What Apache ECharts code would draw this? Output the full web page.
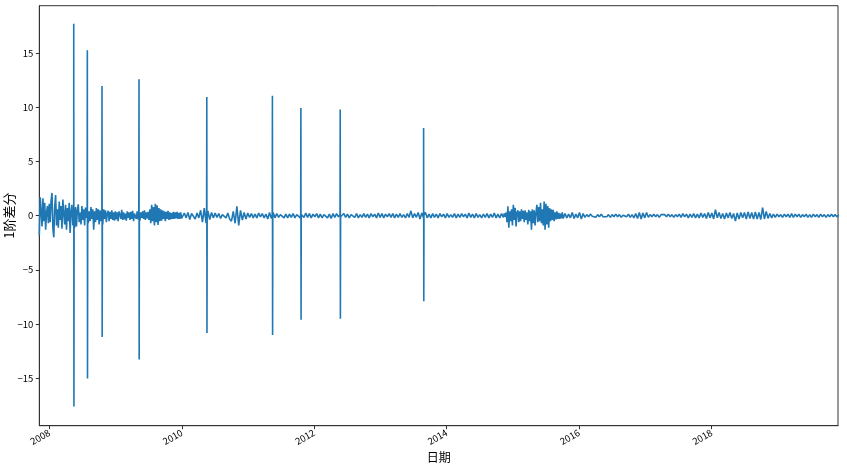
<!DOCTYPE html>
<html><head><meta charset="utf-8">
<script src="https://cdn.jsdelivr.net/npm/echarts@6/dist/echarts.min.js"></script>
<style>html,body{margin:0;padding:0;background:#fff}#c{width:847px;height:465px}</style>
</head><body><div id="c"></div>
<script>
// ---- data read from the picture (first difference, sampled along the band) ----
// segment 1: 2007-11-07 .. 2009-12-31, every 5 days
const seg1Start = '2007-11-07', seg1Step = 5;
const seg1Values = [
  -1.8, 1.7, 0.4, -1.0, 1.6, -0.5, 1.2, -1.3, 0.3, 0.9, -0.7, 1.1, -0.6,
  1.4, 2.1, -1.2, -2.0, 0.8, 1.9, -0.9, 0.6,
  -1.1, 1.3, -0.4, 0.9, -1.2, 1.5, 0.2, -0.8, 1.0, -1.3, 0.7, -0.5, 1.2, -1.6, 0.4, 1.0, -0.9, 0.6, -1.1,
  0.8, -1.0, 0.5, 1.05, -0.6, 0.3, -0.8, 0.9, -0.4, 0.6, -0.9, 0.75, -0.2, 0.5, -0.7, 0.4, -0.5, 0.8, -0.3, 0.6,
  -1.3, 0.4, -0.6, 0.7, -0.4, 0.6, -0.8, 0.5,
  -0.5, 0.4, -0.8, 0.6, -0.3, 0.5, -0.6, 0.2, 0.45, -0.5, 0.35, -0.3, 0.5, -0.4, 0.3, -0.45, 0.4,
  -0.35, 0.3, -0.5, 0.4, 0.1, -0.3, 0.55, -0.4, 0.3, -0.35, 0.2, -0.45, 0.4, -0.2, 0.3, -0.4, 0.35, -0.3, 0.45, -0.5,
  0.2, 0.35, -0.3, 0.4, -0.35, 0.25, -0.45, 0.3, -0.2, 0.4, -0.3, 0.5, -0.4, 0.3, -0.25, 0.35, -0.4,
  0.6, -0.7, 1.0, -0.5, 0.8, -0.9, 1.1, -0.6, 0.95, -0.85, 0.7, -0.5, 0.6,
  -0.45, 0.5, -0.3, 0.4, -0.5, 0.35, -0.3, 0.45, -0.4, 0.3, -0.35, 0.25, -0.3, 0.35, -0.3, 0.3, -0.25, 0.35, -0.3, 0.25,
  -0.3, 0.3, -0.25
];
// segment 2: 2010-01-05 .. 2014-10-31, every 10 days
const seg2Start = '2010-01-05', seg2Step = 10;
const seg2Values = [
  -0.3, 0.25, -0.2, 0.3, -0.35, 0.2, 0.05, -0.3, 0.25, -0.2,
  0.5, -0.6, 0.7, -0.7, 0.45, -0.35, 0.3, -0.2, 0.25, -0.15,
  0.2, -0.25, 0.1, 0.2, -0.2, 0.25, -0.3, -0.5, 0.4, -0.7,
  0.86, -0.9, 0.5, -0.4, 0.3, -0.3, 0.25, -0.15, 0.2, -0.2,
  0.15, -0.2, 0.25, -0.1, 0.2, -0.2, 0.15, -0.3, 0.3, -0.25,
  0.3, -0.2, 0.2, -0.15, 0.1, 0.2, -0.2, 0.15, -0.2, 0.15,
  -0.15, 0.2, -0.2, 0.1, 0.15, -0.2, 0.2, -0.15, 0.25, -0.15,
  0.2, -0.2, 0.15, -0.1, 0.2, -0.2, 0.15, -0.2, 0.1, 0.2,
  -0.2, 0.15, -0.25, 0.2, -0.15, 0.2, -0.1, 0.15, -0.2, 0.2,
  -0.15, 0.15, -0.2, 0.1, 0.2, -0.15, 0.2, -0.2, 0.1, -0.15,
  0.2, -0.15, 0.15, -0.2, 0.2, -0.1, 0.15, -0.2, 0.25, -0.15,
  0.2, -0.2, 0.15, -0.1, 0.2, -0.15, 0.2, -0.2, 0.15, -0.15,
  0.2, -0.15, 0.1, -0.2, 0.2, -0.15, 0.45, -0.2, 0.2, -0.15,
  0.3, -0.3, 0.25, -0.2, 0.3, -0.2, 0.15, -0.2, 0.2, -0.15,
  0.15, -0.2, 0.2, -0.1, 0.15, -0.2, 0.2, -0.15, 0.1, -0.15,
  0.2, -0.2, 0.15, -0.15, 0.2, -0.1, 0.15, -0.2, 0.25, -0.15,
  0.15, -0.2, 0.2, -0.15, 0.1, -0.2, 0.15, -0.15, 0.2, -0.2,
  0.15, -0.15, 0.25, -0.2, 0.15, -0.2, 0.2
];
// segment 3: 2014-11-05 .. 2015-10-01, every 5 days
const seg3Start = '2014-11-05', seg3Step = 5;
const seg3Values = [
  0.1, -0.15, 0.2, -0.1, 0.3, -0.6, 0.86, -1.1, 0.4, -0.5,
  0.6, -0.9, 1.0, -0.4, 0.74, -1.0, 0.3, 0.5, -0.6, 0.4,
  -0.5, 0.6, -0.3, 0.45, -0.6, 0.5, -0.4, 0.3, -0.8, 0.55,
  -0.5, 0.4, -1.3, 0.6, -0.7, 0.5, -0.9, 0.3, 1.0, -0.6,
  0.8, -0.5, 1.2, -0.7, 0.6, -0.9, 1.32, -1.3, 1.1, -0.8,
  0.9, -1.1, 0.7, -0.5, 0.6, -0.4, 0.55, -0.5, 0.3, -0.35,
  0.4, -0.3, 0.25, -0.3, 0.2, -0.25, 0.3
];
// segment 4: 2015-10-06 .. 2019-11, every 10 days
const seg4Start = '2015-10-06', seg4Step = 10;
const seg4Values = [
  -0.25, 0.2, -0.2, 0.15, -0.2, 0.3, -0.25, 0.15, -0.2, 0.3,
  -0.3, 0.2, -0.15, 0.1, -0.1, 0.15, -0.05, 0.1, -0.15, 0.1,
  -0.1, 0.15, -0.1, 0.05, -0.1, 0.1, -0.15, 0.1, -0.1, 0.15,
  -0.1, 0.1, -0.15, 0.05, 0.1, -0.1, 0.15, -0.15, 0.1, -0.2,
  0.2, -0.25, 0.3, -0.3, 0.25, -0.2, 0.3, -0.15, 0.1, -0.1,
  0.15, -0.1, 0.1, -0.15, 0.1, -0.05, 0.1, -0.1, 0.15, -0.1,
  0.1, -0.15, 0.1, -0.1, 0.15, -0.15, 0.2, -0.1, 0.15, -0.2,
  0.15, -0.15, 0.2, -0.2, 0.15, -0.2, 0.25, -0.15, 0.2, -0.25,
  0.3, -0.2, 0.25, -0.3, 0.55, -0.2, 0.3, -0.25, 0.2, -0.3,
  0.25, -0.2, 0.3, -0.25, 0.2, -0.5, 0.25, -0.3, 0.3, -0.2,
  0.3, -0.3, 0.35, -0.25, 0.3, -0.3, 0.35, -0.3, 0.3, -0.35,
  0.75, -0.3, 0.4, -0.25, 0.2, -0.2, 0.15, -0.15, 0.15, -0.1,
  0.1, -0.15, 0.15, -0.1, 0.15, -0.15, 0.2, -0.15, 0.15, -0.1,
  0.15, -0.15, 0.1, -0.1, 0.15, -0.15, 0.1, -0.15, 0.15, -0.1,
  0.1, -0.15, 0.15, -0.1, 0.1, -0.15, 0.1, -0.1, 0.15, -0.1,
  0.1, -0.1, 0.05
];
// isolated jumps (up day, then down the next day), with the neighbouring days
const spikeDates = ['2008-05-15', '2008-07-29', '2008-10-18', '2009-05-10', '2010-05-19',
                    '2011-05-16', '2011-10-20', '2012-05-24', '2013-08-27'];
const spikeUp     = [17.74, 15.28, 11.98, 12.6, 10.97, 11.09, 9.95, 9.8, 8.1];
const spikeDown   = [-17.62, -15.03, -11.21, -13.28, -10.84, -11.03, -9.61, -9.52, -7.9];
const spikeBefore = [0.3, 0.5, -0.4, 0.2, 0.3, 0.1, 0.1, 0.1, 0.1];
const spikeAfter  = [-0.5, 0.4, 0.3, -0.2, -0.2, -0.1, 0.1, -0.1, 0.05];
const xMinDate = '2007-11-07';
const xMaxDate = '2019-11-30';
const xTickYears = [2008, 2010, 2012, 2014, 2016, 2018];
const yTicks = [-15, -10, -5, 0, 5, 10, 15];
const yMin = -19.4, yMax = 19.4;

// ---- build series ----
const DAY = 86400000;
function ts(s) { const p = s.split('-'); return Date.UTC(+p[0], +p[1] - 1, +p[2]); }
const pts = [];
[[seg1Start, seg1Step, seg1Values], [seg2Start, seg2Step, seg2Values],
 [seg3Start, seg3Step, seg3Values], [seg4Start, seg4Step, seg4Values]].forEach(([s, step, vals]) => {
  const t0 = ts(s);
  vals.forEach((v, i) => pts.push([t0 + i * step * DAY, v]));
});
spikeDates.forEach((d, k) => {
  const t = ts(d);
  pts.push([t - DAY, spikeBefore[k]]);
  pts.push([t, spikeUp[k]]);
  pts.push([t + DAY, spikeDown[k]]);
  pts.push([t + 2 * DAY, spikeAfter[k]]);
});
pts.sort((a, b) => a[0] - b[0]);
const xTickValues = xTickYears.map(y => Date.UTC(y, 0, 1));

const font = '"Noto Sans CJK SC", "DejaVu Sans", sans-serif';
const chart = echarts.init(document.getElementById('c'), null, { renderer: 'canvas' });
chart.setOption({
  animation: false,
  backgroundColor: '#fff',
  grid: { left: 39.3, right: 9, top: 5.7, bottom: 39.3, outerBoundsMode: 'none', containLabel: false,
          show: true, borderColor: '#333', borderWidth: 1, backgroundColor: 'transparent' },
  xAxis: {
    type: 'value',
    min: ts(xMinDate), max: ts(xMaxDate),
    name: '日期', nameLocation: 'middle', nameGap: 26, nameMoveOverlap: false,
    nameTextStyle: { fontFamily: font, fontSize: 12, color: '#000' },
    axisLine: { show: true, onZero: false, lineStyle: { color: '#333', width: 1 } },
    axisTick: { show: true, length: 3.5, lineStyle: { color: '#333' }, customValues: xTickValues },
    axisLabel: {
      customValues: xTickValues,
      rotate: 30, margin: 6, fontSize: 9.5, fontFamily: font, color: '#000',
      formatter: v => String(new Date(v).getUTCFullYear())
    },
    splitLine: { show: false }
  },
  yAxis: {
    type: 'value', min: yMin, max: yMax,
    name: '1阶差分', nameLocation: 'middle', nameGap: 24, nameRotate: 90, nameMoveOverlap: false,
    nameTextStyle: { fontFamily: font, fontSize: 13, color: '#000' },
    axisLine: { show: true, onZero: false, lineStyle: { color: '#333', width: 1 } },
    axisTick: { show: true, length: 3.5, lineStyle: { color: '#333' }, customValues: yTicks },
    axisLabel: {
      customValues: yTicks, margin: 6, fontSize: 9.5, fontFamily: font, color: '#000',
      formatter: v => String(v).replace('-', '\u2212')
    },
    splitLine: { show: false }
  },
  series: [{
    type: 'line', data: pts, showSymbol: false, symbol: 'none', clip: true,
    lineStyle: { color: '#1f77b4', width: 1.6 }
  }]
});
</script></body></html>
